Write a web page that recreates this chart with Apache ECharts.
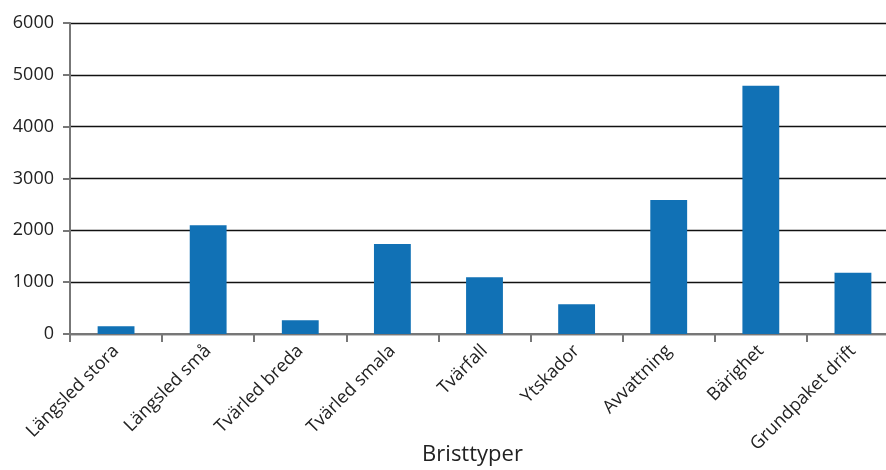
<!DOCTYPE html>
<html>
<head>
<meta charset="utf-8">
<script src="https://cdn.jsdelivr.net/npm/echarts@6/dist/echarts.min.js"></script>
<style>
  html, body { margin: 0; padding: 0; background: #fff; overflow: hidden; }
  /* plotytan fortsätter något förbi högerkanten i originalet */
  #chart { width: 899px; height: 470px; }
</style>
</head>
<body>
<div id="chart"></div>
<script>
  // kategorier och värden
  const categories = ['Längsled stora', 'Längsled små', 'Tvärled breda', 'Tvärled smala', 'Tvärfall', 'Ytskador', 'Avvattning', 'Bärighet', 'Grundpaket drift'];
  const values = [150, 2100, 265, 1735, 1095, 575, 2585, 4790, 1180];
  const yTicks = [0, 1000, 2000, 3000, 4000, 5000, 6000];

  const font = 'Open Sans';
  const chart = echarts.init(document.getElementById('chart'));

  chart.setOption({
    animation: false,
    grid: { left: 70, top: 23, right: 0, bottom: 136, outerBoundsMode: 'none' },
    xAxis: {
      type: 'category',
      data: categories,
      name: 'Bristtyper',
      nameLocation: 'middle',
      nameGap: 110,
      nameMoveOverlap: false,
      // titeln sitter lite till vänster om plotytans mitt
      nameTextStyle: { fontFamily: font, fontSize: 22, color: '#222', padding: [0, 24, 0, 0] },
      axisLine: { lineStyle: { color: '#777', width: 2 } },
      axisTick: { show: true, length: 8, lineStyle: { color: '#777', width: 2 } },
      axisLabel: { rotate: 45, margin: 14, interval: 0, fontFamily: font, fontSize: 18, color: '#222' },
    },
    yAxis: {
      type: 'value',
      min: yTicks[0],
      max: yTicks[yTicks.length - 1],
      interval: 1000,
      axisLine: { show: true, lineStyle: { color: '#777', width: 2 } },
      axisTick: { show: true, length: 7, lineStyle: { color: '#777', width: 2 } },
      axisLabel: { margin: 16, fontFamily: font, fontSize: 18, color: '#222', formatter: (v) => String(v) },
      splitLine: { lineStyle: { color: '#111', width: 1.3 } },
    },
    series: [
      {
        type: 'bar',
        data: values,
        barWidth: '40%',
        itemStyle: { color: '#1171b5' },
      },
    ],
  });
</script>
</body>
</html>
